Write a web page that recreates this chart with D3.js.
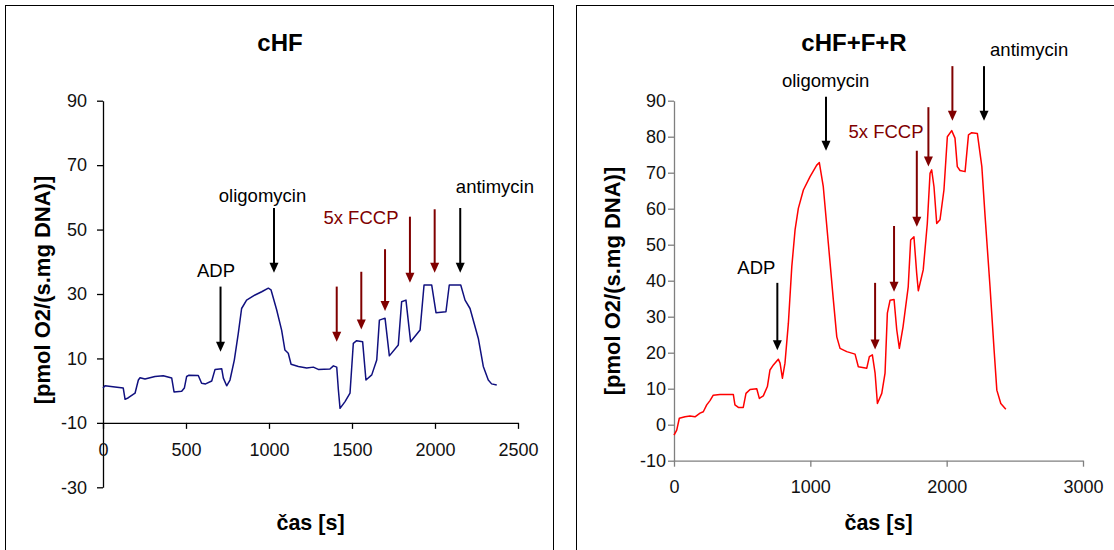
<!DOCTYPE html>
<html>
<head>
<meta charset="utf-8">
<script src="https://cdn.jsdelivr.net/npm/d3@7"></script>
<style>
body { margin: 0; background: #fff; }
svg { display: block; font-family: "Liberation Sans", Arial, sans-serif; }
</style>
</head>
<body>
<svg id="chart" width="1114" height="550"></svg>
<script>
// ----- data -----
const cHFTime = [0,12,72,122,133,153,193,213,223,253,313,363,414,428,474,490,504,518,574,594,618,655,675,715,725,745,765,791,815,835,865,916,956,996,1012,1046,1076,1096,1116,1133,1177,1227,1267,1297,1367,1388,1408,1418,1428,1458,1488,1508,1528,1564,1584,1619,1649,1665,1699,1725,1779,1799,1825,1853,1910,1934,1980,2006,2066,2086,2155,2181,2211,2261,2291,2321,2341,2372];
const cHFFlux = [0.8,1.5,1.1,0.8,-2.7,-2.2,-0.8,3.3,4.0,3.6,4.4,4.6,3.9,-0.4,-0.2,0.8,4.4,4.8,4.7,2.3,2.1,3.0,6.6,6.8,3.9,1.5,3.3,9.5,17.8,25.5,28.1,29.7,30.7,31.8,31.3,25.1,18.8,12.6,11.6,8.2,7.5,7.0,7.3,6.6,6.7,7.7,7.3,0.2,-5.5,-3.4,-0.8,14.7,15.5,15.2,3.3,4.9,9.5,21.9,22.5,10.8,14.2,27.6,28.1,15.2,18.8,32.8,32.8,24.2,24.5,32.8,32.8,28.1,25.5,16.2,7.5,3.3,2.1,1.75];

const cHFRTime = [0,20,39,81,117,154,191,215,240,264,288,337,435,447,472,508,528,558,607,626,655,685,704,729,765,778,795,814,839,864,888,912,949,998,1047,1066,1095,1132,1169,1194,1218,1267,1328,1352,1414,1433,1455,1475,1492,1524,1548,1565,1585,1614,1634,1653,1680,1718,1736,1760,1780,1792,1828,1858,1878,1890,1907,1927,1951,1980,2005,2037,2061,2078,2098,2135,2160,2184,2225,2258,2282,2318,2348,2368,2397,2434];
const cHFRFlux = [-2.9,-1.5,1.8,2.2,2.4,2.2,3.2,3.6,5.5,6.7,8.2,8.4,8.4,5.5,4.8,4.8,8.7,9.8,10.0,7.3,8.0,10.6,15.2,16.6,18.2,17.1,12.9,17.1,28.2,43.9,54.1,60.1,65.2,68.9,72.1,72.8,66.1,50.4,34.6,24.4,21.2,20.3,19.6,16.1,15.7,18.9,19.4,14.3,5.9,8.7,14.3,31.0,34.6,34.8,26.3,21.2,27.2,38.3,51.3,52.2,42.1,37.2,43.0,55.9,69.8,70.8,66.1,55.9,56.9,65.2,80.0,81.7,79.6,71.7,70.6,70.3,80.5,81.1,80.9,71.7,57.8,38.3,20.7,9.6,5.9,4.3];

const leftYTicks = [-30,-10,10,30,50,70,90];
const leftXTicks = [0,500,1000,1500,2000,2500];
const rightYTicks = [-10,0,10,20,30,40,50,60,70,80,90];
const rightXTicks = [0,1000,2000,3000];

// additions: ADP, oligomycin, 5x FCCP, antimycin (time, arrow top, arrow tip)
const arrowKind = ["black","black","fccp","fccp","fccp","fccp","fccp","black"];
const cHFArrowTime = [708,1030,1408,1556,1699,1849,1998,2152];
const cHFArrowTop  = [32.3,56.7,32.3,36.9,43.9,54.0,56.3,56.7];
const cHFArrowTip  = [12.1,36.6,15.2,19.0,24.7,33.5,36.6,36.6];
const cHFRArrowTime = [758,1115,1475,1614,1781,1866,2042,2274];
const cHFRArrowTop  = [39.4,91.1,39.4,55.2,76.1,88.2,99.6,99.6];
const cHFRArrowTip  = [20.7,76.1,20.9,36.9,55.0,71.7,84.4,84.4];

const labelText = ["ADP","oligomycin","5x FCCP","antimycin"];
const labelKind = ["black","black","fccp","black"];
const cHFLabelTime = [681,961,1554,2361];
const cHFLabelFlux = [37.4,60.7,53.7,63.3];
const cHFRLabelTime = [604,1112,1555,2605];
const cHFRLabelFlux = [43.7,95.6,81.4,104.1];

const svg = d3.select("svg#chart");
const colors = {black: "#000", fccp: "#800000"};

function drawPanel(p) {
    const g = svg.append("g");

    // frame
    g.append("rect")
        .attr("x", p.box[0]).attr("y", p.box[1])
        .attr("width", p.box[2]).attr("height", p.box[3])
        .attr("fill", "none").attr("stroke", "#000").attr("stroke-width", 1);

    const x = d3.scaleLinear().domain(p.xDomain).range(p.xRange);
    const y = d3.scaleLinear().domain(p.yDomain).range(p.yRange);

    // axes
    const yAxis = g.append("g")
        .attr("transform", "translate(" + p.xRange[0] + ",0)")
        .call(d3.axisLeft(y).tickValues(p.yTicks).tickFormat(d => String(d))
            .tickSize(6).tickPadding(p.yPad).tickSizeOuter(0));
    const xAxis = g.append("g")
        .attr("transform", "translate(0," + y(p.xAxisAt) + ")")
        .call(d3.axisBottom(x).tickValues(p.xTicks).tickFormat(d => String(d))
            .tickSize(6).tickPadding(14).tickSizeOuter(0));
    [yAxis, xAxis].forEach(a => {
        a.select(".domain").attr("stroke", p.axisColor).attr("stroke-width", 1.3);
        a.selectAll(".tick line").attr("stroke", p.axisColor).attr("stroke-width", 1.3);
        a.selectAll(".tick text").attr("fill", "#111").style("font-size", "18px")
            .style("font-family", "'Liberation Sans', Arial, sans-serif");
    });

    // trace
    const line = d3.line().x(d => x(d[0])).y(d => y(d[1]));
    g.append("path")
        .datum(d3.zip(p.time, p.flux))
        .attr("d", line)
        .attr("fill", "none")
        .attr("stroke", p.color)
        .attr("stroke-width", 1.5)
        .attr("stroke-linejoin", "round");

    // arrows
    const arrows = p.arrowTime.map((t, i) => ({t: t, top: p.arrowTop[i], tip: p.arrowTip[i], kind: arrowKind[i]}));
    g.selectAll("line.arrow")
        .data(arrows)
        .join("line")
        .attr("class", "arrow")
        .attr("x1", d => x(d.t)).attr("x2", d => x(d.t))
        .attr("y1", d => y(d.top)).attr("y2", d => y(d.tip) - 8)
        .attr("stroke", d => colors[d.kind])
        .attr("stroke-width", 2);
    g.selectAll("path.head")
        .data(arrows)
        .join("path")
        .attr("class", "head")
        .attr("d", d => {
            const cx = x(d.t), ty = y(d.tip);
            return "M" + (cx - 4.5) + "," + (ty - 10) + "L" + (cx + 4.5) + "," + (ty - 10) + "L" + cx + "," + ty + "Z";
        })
        .attr("fill", d => colors[d.kind]);

    // annotation labels
    g.selectAll("text.note")
        .data(labelText.map((s, i) => ({s: s, t: p.labelTime[i], v: p.labelFlux[i], kind: labelKind[i]})))
        .join("text")
        .attr("class", "note")
        .attr("x", d => x(d.t)).attr("y", d => y(d.v))
        .attr("text-anchor", "middle")
        .attr("dominant-baseline", "central")
        .attr("fill", d => colors[d.kind])
        .style("font-size", "18.5px")
        .text(d => d.s);

    // titles
    g.append("text")
        .attr("x", p.titleX).attr("y", 51)
        .attr("text-anchor", "middle")
        .style("font-size", "24px").style("font-weight", "bold")
        .text(p.title);
    g.append("text")
        .attr("x", (p.xRange[0] + p.xRange[1]) / 2).attr("y", 530)
        .attr("text-anchor", "middle")
        .style("font-size", "21.5px").style("font-weight", "bold")
        .text("čas [s]");
    g.append("text")
        .attr("transform", "translate(" + p.yLabelX + "," + p.yLabelY + ") rotate(-90)")
        .attr("text-anchor", "middle")
        .attr("dominant-baseline", "central")
        .style("font-size", "22px").style("font-weight", "bold")
        .text("[pmol O2/(s.mg DNA)]");
}

drawPanel({
    box: [5.5, 5.5, 548, 560],
    xDomain: [0, 2500], xRange: [103, 518],
    yDomain: [-30, 90], yRange: [487.3, 100.7],
    xAxisAt: -10, yTicks: leftYTicks, xTicks: leftXTicks, yPad: 10,
    axisColor: "#000", color: "#10107f",
    time: cHFTime, flux: cHFFlux,
    arrowTime: cHFArrowTime, arrowTop: cHFArrowTop, arrowTip: cHFArrowTip,
    labelTime: cHFLabelTime, labelFlux: cHFLabelFlux,
    title: "cHF", titleX: 280, yLabelX: 42, yLabelY: 290
});

drawPanel({
    box: [576.5, 5.5, 560, 560],
    xDomain: [0, 3000], xRange: [674, 1083],
    yDomain: [-10, 90], yRange: [460.7, 100.7],
    xAxisAt: -10, yTicks: rightYTicks, xTicks: rightXTicks, yPad: 2,
    axisColor: "#7f7f7f", color: "#ff0000",
    time: cHFRTime, flux: cHFRFlux,
    arrowTime: cHFRArrowTime, arrowTop: cHFRArrowTop, arrowTip: cHFRArrowTip,
    labelTime: cHFRLabelTime, labelFlux: cHFRLabelFlux,
    title: "cHF+F+R", titleX: 854, yLabelX: 612, yLabelY: 281
});
</script>
</body>
</html>
